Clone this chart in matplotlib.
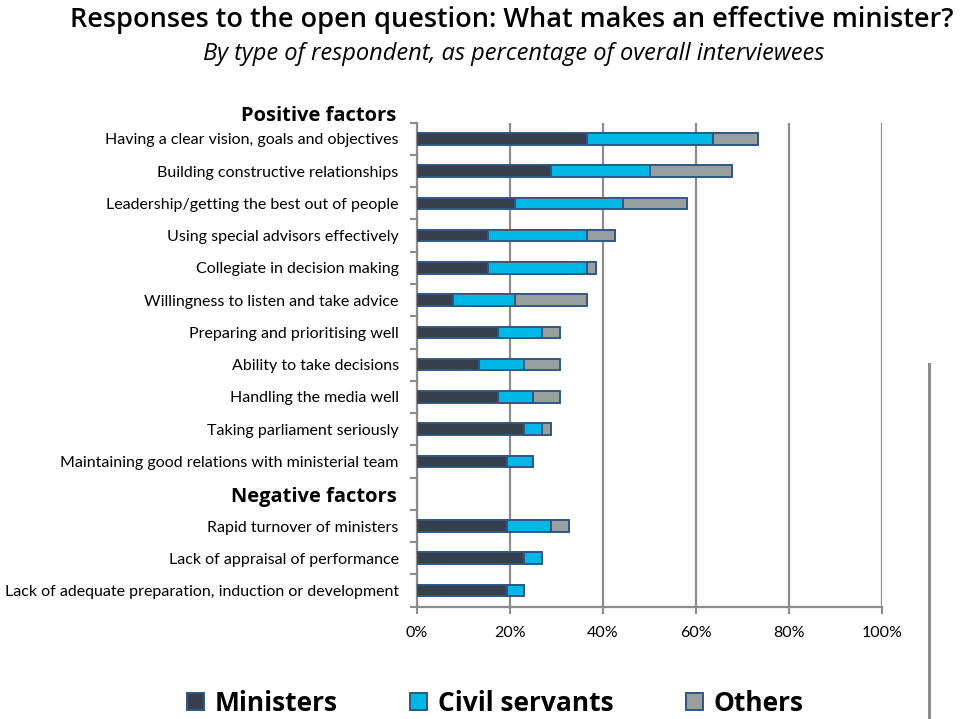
import matplotlib
matplotlib.use("Agg")
import matplotlib.pyplot as plt
import matplotlib.transforms as mtransforms
from matplotlib.patches import Patch
from matplotlib.lines import Line2D
import numpy as np

# --- data (top to bottom, '' = spacer row for the "Negative factors" header)
categories = [
    "Having a clear vision, goals and objectives",
    "Building constructive relationships",
    "Leadership/getting the best out of people",
    "Using special advisors effectively",
    "Collegiate in decision making",
    "Willingness to listen and take advice",
    "Preparing and prioritising well",
    "Ability to take decisions",
    "Handling the media well",
    "Taking parliament seriously",
    "Maintaining good relations with ministerial team",
    "",
    "Rapid turnover of ministers",
    "Lack of appraisal of performance",
    "Lack of adequate preparation, induction or development",
]
ministers = [36.7, 28.9, 21.2, 15.4, 15.4, 7.7, 17.4, 13.4, 17.4, 23.1, 19.3, 0, 19.3, 23.1, 19.3]
civil_servants = [27.0, 21.3, 23.1, 21.3, 21.3, 13.5, 9.6, 9.7, 7.6, 3.9, 5.7, 0, 9.5, 3.9, 3.8]
others = [9.6, 17.5, 13.7, 5.9, 1.9, 15.5, 3.9, 7.8, 5.9, 1.9, 0, 0, 3.9, 0, 0]
series_names = ["Ministers", "Civil servants", "Others"]
xticks = [0, 20, 40, 60, 80, 100]

COLORS = ["#37404a", "#00b7e5", "#979f9f"]
EDGE = "#2f5685"
GRID = "#8c8c8c"
HEAD = ['Open Sans', 'DejaVu Sans']

plt.rcParams['font.family'] = ['Lato', 'DejaVu Sans']

fig = plt.figure(figsize=(9.62, 7.19), dpi=100)
ax = fig.add_axes([0.4332, 0.1562, 0.4836, 0.6732])

y = np.arange(len(categories))
left = np.zeros(len(categories))
for vals, col in zip([ministers, civil_servants, others], COLORS):
    vals = np.array(vals)
    mask = vals > 0
    ax.barh(y[mask], vals[mask], left=left[mask], height=0.36, color=col,
            edgecolor=EDGE, linewidth=1.4, zorder=3)
    left = left + vals

ax.set_xlim(0, 100)
ax.set_ylim(len(categories) - 0.5, -0.5)

ax.set_xticks(xticks)
ax.set_xticklabels([f"{v}%" for v in xticks], fontsize=11.5)
ax.tick_params(axis='x', length=5, width=1.5, color=GRID, pad=9)

# ticks on boundaries, labels at centers
ax.set_yticks(np.arange(-0.5, len(categories) + 0.5, 1))
ax.set_yticklabels([])
ax.tick_params(axis='y', which='major', length=5, width=1.5, color=GRID)
ax.set_yticks(y, minor=True)
ax.set_yticklabels(categories, minor=True, fontsize=11.5)
ax.tick_params(axis='y', which='minor', length=0, pad=13)

ax.grid(axis='x', color=GRID, linewidth=1.6, zorder=0)
for s in ['top', 'right']:
    ax.spines[s].set_visible(False)
for s in ['left', 'bottom']:
    ax.spines[s].set_color(GRID)
    ax.spines[s].set_linewidth(1.6)

trans = mtransforms.blended_transform_factory(ax.transAxes, ax.transData)
ax.text(-0.043, -0.72, "Positive factors", transform=trans, ha='right', va='center',
        fontsize=14.5, fontweight='bold', fontfamily=HEAD)
ax.text(-0.043, 11.1, "Negative factors", transform=trans, ha='right', va='center',
        fontsize=14.5, fontweight='bold', fontfamily=HEAD)

fig.text(0.532, 0.972, "Responses to the open question: What makes an effective minister?",
         ha='center', va='center', fontsize=19.5, fontweight='semibold', fontfamily=HEAD)
fig.text(0.534, 0.925, "By type of respondent, as percentage of overall interviewees",
         ha='center', va='center', fontsize=17, fontstyle='italic', fontfamily=HEAD)

handles = [Patch(facecolor=c, edgecolor=EDGE, linewidth=1.4) for c in COLORS]
fig.legend(handles, series_names, loc='center', bbox_to_anchor=(0.515, 0.022), ncol=3,
           frameon=False, handlelength=0.65, handleheight=0.65, handletextpad=0.4,
           columnspacing=2.75, borderpad=0.2,
           prop={'family': HEAD, 'size': 19, 'weight': 'bold'})

# stray vertical rule at the right edge of the source image
fig.add_artist(Line2D([929.5 / 962, 929.5 / 962], [0, 1 - 364 / 719],
                      transform=fig.transFigure, color=GRID, linewidth=2.2))

fig.savefig("out.png", dpi=100)
